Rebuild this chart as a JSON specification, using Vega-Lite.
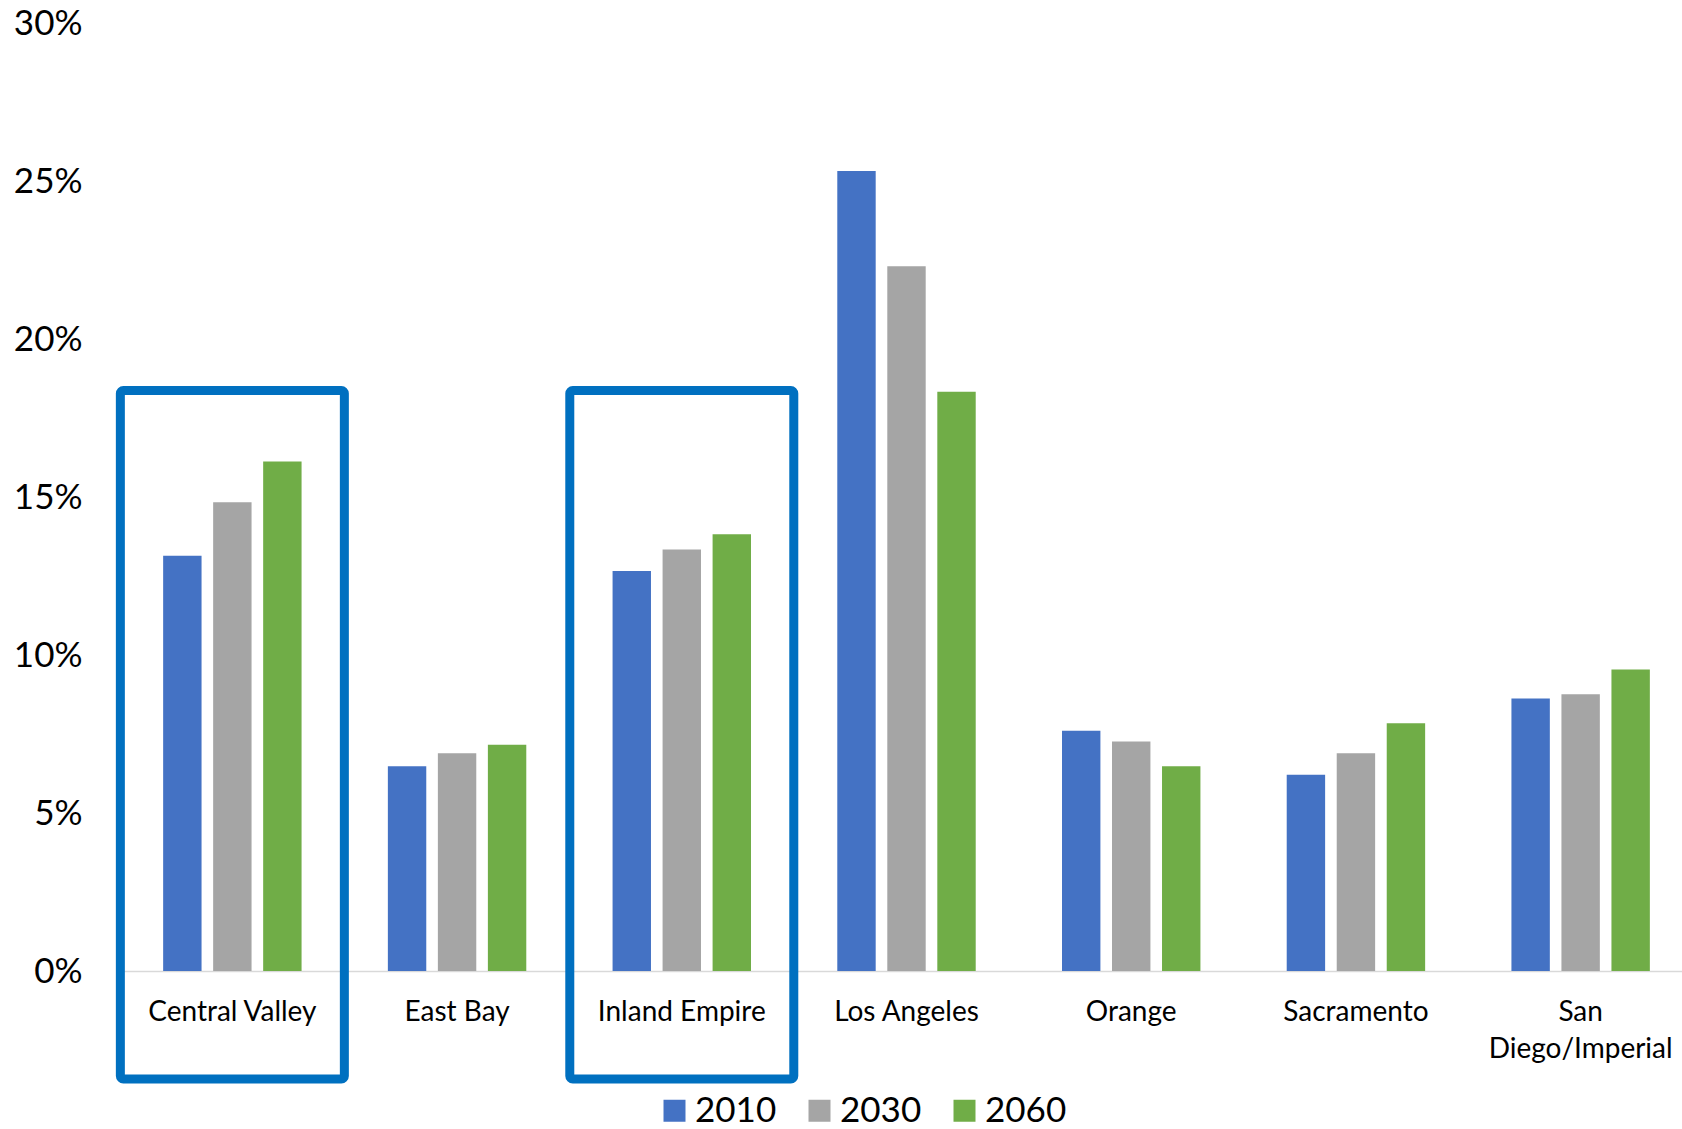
{
  "$schema": "https://vega.github.io/schema/vega-lite/v6.json",
  "autosize": "none",
  "padding": {"left": 120, "top": 23, "right": 0, "bottom": 158},
  "width": 1562,
  "height": 948,
  "background": "white",
  "config": {
    "view": {"stroke": null},
    "font": "Lato",
    "axis": {"labelFont": "Lato", "labelColor": "#000000", "ticks": false, "tickSize": 0, "grid": false, "title": null}
  },
  "datasets": {
    "shares": [
      {"region": "Central Valley", "year": "2010", "share": 0.1314},
      {"region": "Central Valley", "year": "2030", "share": 0.1483},
      {"region": "Central Valley", "year": "2060", "share": 0.1612},
      {"region": "East Bay", "year": "2010", "share": 0.0648},
      {"region": "East Bay", "year": "2030", "share": 0.0689},
      {"region": "East Bay", "year": "2060", "share": 0.0716},
      {"region": "Inland Empire", "year": "2010", "share": 0.1266},
      {"region": "Inland Empire", "year": "2030", "share": 0.1334},
      {"region": "Inland Empire", "year": "2060", "share": 0.1382},
      {"region": "Los Angeles", "year": "2010", "share": 0.2532},
      {"region": "Los Angeles", "year": "2030", "share": 0.2230},
      {"region": "Los Angeles", "year": "2060", "share": 0.1833},
      {"region": "Orange", "year": "2010", "share": 0.0760},
      {"region": "Orange", "year": "2030", "share": 0.0726},
      {"region": "Orange", "year": "2060", "share": 0.0648},
      {"region": "Sacramento", "year": "2010", "share": 0.0621},
      {"region": "Sacramento", "year": "2030", "share": 0.0689},
      {"region": "Sacramento", "year": "2060", "share": 0.0784},
      {"region": "San Diego/Imperial", "year": "2010", "share": 0.0862},
      {"region": "San Diego/Imperial", "year": "2030", "share": 0.0876},
      {"region": "San Diego/Imperial", "year": "2060", "share": 0.0954}
    ],
    "highlight": [
      {"region": "Central Valley"},
      {"region": "Inland Empire"}
    ]
  },
  "layer": [
    {
      "data": {"name": "shares"},
      "mark": {"type": "bar"},
      "encoding": {
        "x": {
          "field": "region", "type": "nominal", "sort": null,
          "scale": {"paddingInner": 0.384, "paddingOuter": 0.192, "range": [0, 1573]},
          "axis": {
            "labelAngle": 0, "labelFontSize": 28, "labelPadding": 27, "labelBaseline": "top",
            "labelLineHeight": 37, "labelLimit": 400,
            "domainColor": "#D9D9D9", "domainWidth": 1.5,
            "labelExpr": "datum.value == 'San Diego/Imperial' ? ['San', 'Diego/Imperial'] : datum.value"
          }
        },
        "xOffset": {"field": "year", "type": "nominal", "scale": {"paddingInner": 0.232, "paddingOuter": 0}},
        "y": {
          "field": "share", "type": "quantitative",
          "scale": {"domain": [0, 0.3], "nice": false, "zero": true},
          "axis": {"values": [0, 0.05, 0.1, 0.15, 0.2, 0.25, 0.3], "format": ".0%", "domain": false, "labelFontSize": 35, "labelPadding": 38}
        },
        "color": {
          "field": "year", "type": "nominal",
          "scale": {"domain": ["2010", "2030", "2060"], "range": ["#4472C4", "#A5A5A5", "#70AD47"]},
          "legend": {
            "title": null, "orient": "none", "direction": "horizontal",
            "legendX": 537, "legendY": 1070, "padding": 0,
            "symbolType": "square", "symbolSize": 484, "symbolStrokeWidth": 0,
            "labelFont": "Lato", "labelFontSize": 35, "labelColor": "#000000",
            "labelOffset": 3, "columnPadding": 25
          }
        }
      }
    },
    {
      "data": {"name": "highlight"},
      "mark": {"type": "bar", "width": 224, "fillOpacity": 0, "fill": "white", "stroke": "#0070C0", "strokeWidth": 9, "cornerRadius": 3, "clip": false},
      "encoding": {
        "x": {"field": "region", "type": "nominal", "sort": null},
        "y": {"datum": 0.1837},
        "y2": {"datum": -0.0342}
      }
    }
  ]
}
